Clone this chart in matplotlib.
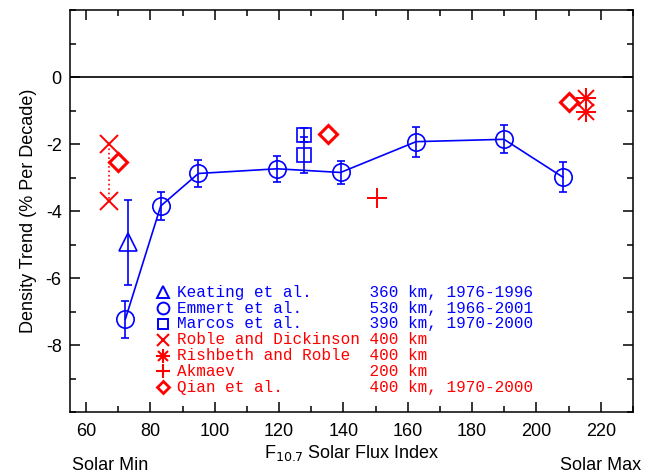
import matplotlib
matplotlib.use("Agg")
import matplotlib.pyplot as plt
from matplotlib.ticker import MultipleLocator

# ---- data ----
emmert_f107 = [72.2, 83.2, 94.9, 119.4, 139.1, 162.6, 189.9, 208.2]
emmert_trend = [-7.23, -3.85, -2.88, -2.74, -2.85, -1.93, -1.86, -2.99]
emmert_err = [0.55, 0.43, 0.40, 0.38, 0.33, 0.45, 0.42, 0.45]

keating_f107 = [72.9]
keating_trend = [-4.93]
keating_err = [1.27]

marcos_f107 = [127.8, 127.8]
marcos_trend = [-1.73, -2.33]
marcos_err = [0.20, 0.53]

roble_f107 = [67.0, 67.0]
roble_trend = [-2.01, -3.70]

rishbeth_f107 = [215.4, 215.4]
rishbeth_trend = [-0.62, -1.03]

akmaev_f107 = [150.3]
akmaev_trend = [-3.60]

qian_f107 = [70.0, 135.3, 210.1]
qian_trend = [-2.55, -1.70, -0.76]

legend_names = ["Keating et al.", "Emmert et al.", "Marcos et al.",
                "Roble and Dickinson", "Rishbeth and Roble", "Akmaev", "Qian et al."]
legend_info = ["360 km, 1976-1996", "530 km, 1966-2001", "390 km, 1970-2000",
               "400 km", "400 km", "200 km", "400 km, 1970-2000"]
legend_colors = ["blue", "blue", "blue", "red", "red", "red", "red"]

x_ticks = [60, 80, 100, 120, 140, 160, 180, 200, 220]
y_ticks = [0, -2, -4, -6, -8]

# ---- figure ----
plt.rcParams['font.family'] = ['Liberation Sans', 'DejaVu Sans']
plt.rcParams['axes.unicode_minus'] = False
fig = plt.figure(figsize=(6.46, 4.75), dpi=100)
ax = fig.add_axes([70/646, 63/475, 563/646, 402/475])
ax.set_xlim(55, 230)
ax.set_ylim(-10, 2)

ax.axhline(0, color='black', lw=1.2, zorder=1)

lw = 1.2
ax.errorbar(emmert_f107, emmert_trend, yerr=emmert_err, fmt='-o', color='blue',
            mfc='none', mec='blue', ms=12.5, mew=lw, lw=lw, capsize=3, elinewidth=lw,
            capthick=lw, zorder=3)
ax.errorbar(keating_f107, keating_trend, yerr=keating_err, fmt='^', color='blue',
            mfc='none', mec='blue', ms=12.5, mew=lw, elinewidth=lw, capsize=3,
            capthick=lw, zorder=3)
ax.errorbar(marcos_f107, marcos_trend, yerr=marcos_err, fmt='s', color='blue',
            mfc='none', mec='blue', ms=10.5, mew=lw, elinewidth=lw, capsize=3,
            capthick=lw, zorder=3)

ax.plot(roble_f107, roble_trend, ls=':', color='red', lw=1.2, marker='x', ms=13,
        mew=1.4, zorder=3)
ax.plot(rishbeth_f107, rishbeth_trend, ls='none', color='red', marker='+', ms=15,
        mew=1.4, zorder=3)
ax.plot(rishbeth_f107, rishbeth_trend, ls='none', color='red', marker='x', ms=11,
        mew=1.4, zorder=3)
ax.plot(akmaev_f107, akmaev_trend, ls='none', color='red', marker='+', ms=15,
        mew=1.4, zorder=3)
ax.plot(qian_f107, qian_trend, ls='none', color='red', marker='D', mfc='none',
        ms=9.5, mew=2.2, zorder=3)

# ticks
ax.set_xticks(x_ticks)
ax.set_yticks(y_ticks)
ax.xaxis.set_minor_locator(MultipleLocator(10))
ax.yaxis.set_minor_locator(MultipleLocator(1))
ax.tick_params(which='both', direction='in', top=True, right=True, width=1.1,
               labelsize=13, pad=8)
ax.tick_params(which='major', length=7)
ax.tick_params(which='minor', length=4)
ax.tick_params(axis='y', which='both', pad=6)
for s in ax.spines.values():
    s.set_linewidth(1.1)

ax.set_ylabel("Density Trend (% Per Decade)", fontsize=13, labelpad=6)
ax.set_xlabel(r"F$_{10.7}$ Solar Flux Index", fontsize=13, labelpad=2)
fig.text(72/646, 1 - 465/475, "Solar Min", fontsize=13, ha='left', va='center')
fig.text(641/646, 1 - 465/475, "Solar Max", fontsize=13, ha='right', va='center')

# ---- legend (manual) ----
sym_x = (163.3 - 70) / 563
txt_x = (176.7 - 70) / 563
y0 = (412 - 292.3) / 402
dy = 15.83 / 402
mk = dict(transform=ax.transAxes, clip_on=False, ls='none')
for i, (name, info, col) in enumerate(zip(legend_names, legend_info, legend_colors)):
    yy = y0 - i * dy
    if i == 0:
        ax.plot([sym_x], [yy], marker='^', mfc='none', mec=col, ms=9, mew=1.4, **mk)
    elif i == 1:
        ax.plot([sym_x], [yy], marker='o', mfc='none', mec=col, ms=8.5, mew=1.4, **mk)
    elif i == 2:
        ax.plot([sym_x], [yy], marker='s', mfc='none', mec=col, ms=7.5, mew=1.4, **mk)
    elif i == 3:
        ax.plot([sym_x], [yy], marker='x', color=col, ms=8, mew=1.5, **mk)
    elif i == 4:
        ax.plot([sym_x], [yy], marker='+', color=col, ms=10, mew=1.5, **mk)
        ax.plot([sym_x], [yy], marker='x', color=col, ms=7, mew=1.5, **mk)
    elif i == 5:
        ax.plot([sym_x], [yy], marker='+', color=col, ms=10, mew=1.5, **mk)
    else:
        ax.plot([sym_x], [yy], marker='D', mfc='none', mec=col, ms=6.5, mew=2, **mk)
    ax.text(txt_x, yy, f"{name:<20s}{info}", transform=ax.transAxes, color=col,
            fontsize=11.5, family=['Liberation Mono', 'DejaVu Sans Mono'],
            ha='left', va='center')

fig.savefig("out.png", dpi=100)
